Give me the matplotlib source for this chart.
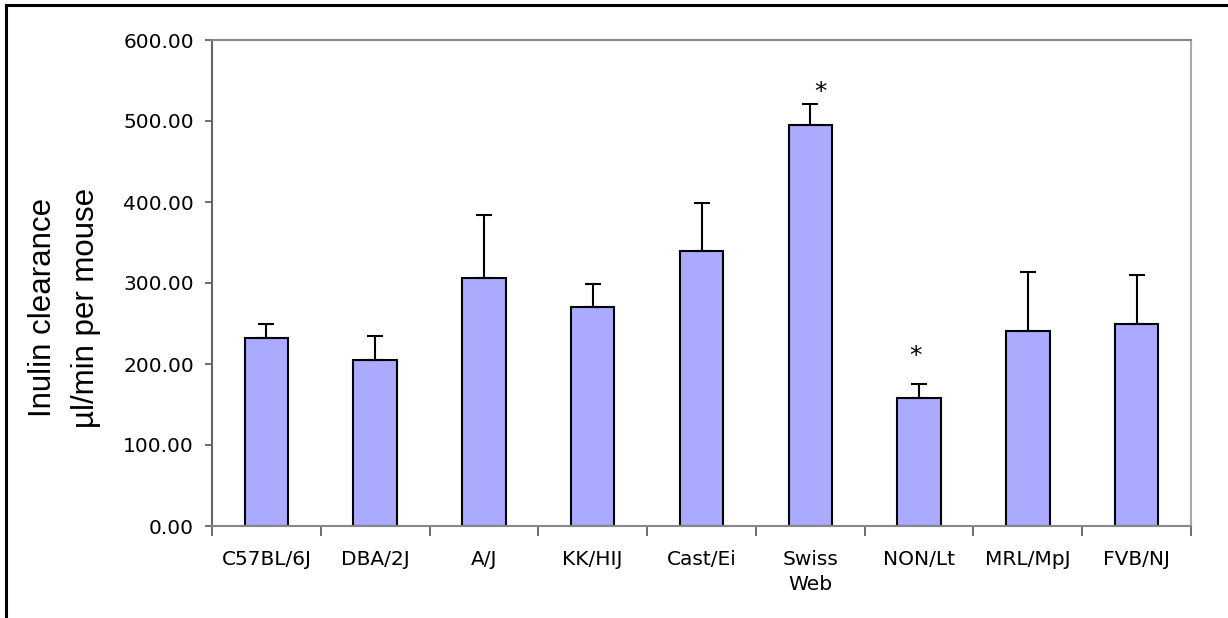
import matplotlib
matplotlib.use("Agg")
import matplotlib.pyplot as plt
from matplotlib.lines import Line2D

categories = ["C57BL/6J", "DBA/2J", "A/J", "KK/HIJ", "Cast/Ei", "Swiss\nWeb", "NON/Lt", "MRL/MpJ", "FVB/NJ"]
means = [232, 205, 306, 270, 340, 495, 158, 241, 250]
errors = [18, 30, 78, 29, 59, 26, 17, 72, 60]
yticks = [0, 100, 200, 300, 400, 500, 600]
star_index = [5, 6]
star_values = [536, 210]

W, H = 1228, 618
fig = plt.figure(figsize=(W / 100, H / 100), dpi=100)
ax = fig.add_axes([212 / W, 1 - 526 / H, (1191 - 212) / W, (526 - 40) / H])

x = list(range(len(categories)))
ax.bar(x, means, width=0.4, color="#AAAAFF", edgecolor="black", linewidth=1.5, zorder=2)
ax.errorbar(x, means, yerr=[[0] * len(errors), errors], fmt="none", ecolor="black",
            elinewidth=1.5, capsize=6, capthick=1.5, zorder=3)

offs = {5: 0.09, 6: -0.03}
for i, v in zip(star_index, star_values):
    ax.text(i + offs[i], v, "*", ha="center", va="center", fontsize=18, family="DejaVu Sans")

ax.set_xlim(-0.5, len(categories) - 0.5)
ax.set_ylim(0, 600)
ax.set_yticks(yticks)
ax.set_yticklabels([f"{v:.2f}" for v in yticks], fontsize=14.5, family="DejaVu Sans")
ax.set_xticks(x)
ax.set_xticklabels(categories, fontsize=14.5, family="DejaVu Sans", linespacing=1.45)
ax.tick_params(axis="x", which="major", length=0, pad=17)
ax.set_xticks([i - 0.5 for i in range(len(categories) + 1)], minor=True)
ax.tick_params(axis="x", which="minor", length=7, width=1.2, color="#555555", direction="out")
ax.tick_params(axis="y", length=5, width=1.2, color="#555555", direction="out", pad=8)

for side in ["left", "bottom", "top", "right"]:
    ax.spines[side].set_color("#888888")
    ax.spines[side].set_linewidth(1.5)
ax.spines["left"].set_color("#666666")
ax.spines["right"].set_color("#AAAAAA")

fig.text(43 / W, 1 - 307 / H, "Inulin clearance", rotation=90, ha="center", va="center",
         fontsize=22.5, family="Liberation Sans")
fig.text(86 / W, 1 - 308 / H, "µl/min per mouse", rotation=90, ha="center", va="center",
         fontsize=22.5, family="Liberation Sans")

# outer frame
fig.add_artist(Line2D([6 / W, 6 / W], [0, 1 - 5 / H], color="black", linewidth=2.2, transform=fig.transFigure))
fig.add_artist(Line2D([6 / W, 1], [1 - 5 / H, 1 - 5 / H], color="black", linewidth=2.2, transform=fig.transFigure))

fig.savefig("out.png", dpi=100)
